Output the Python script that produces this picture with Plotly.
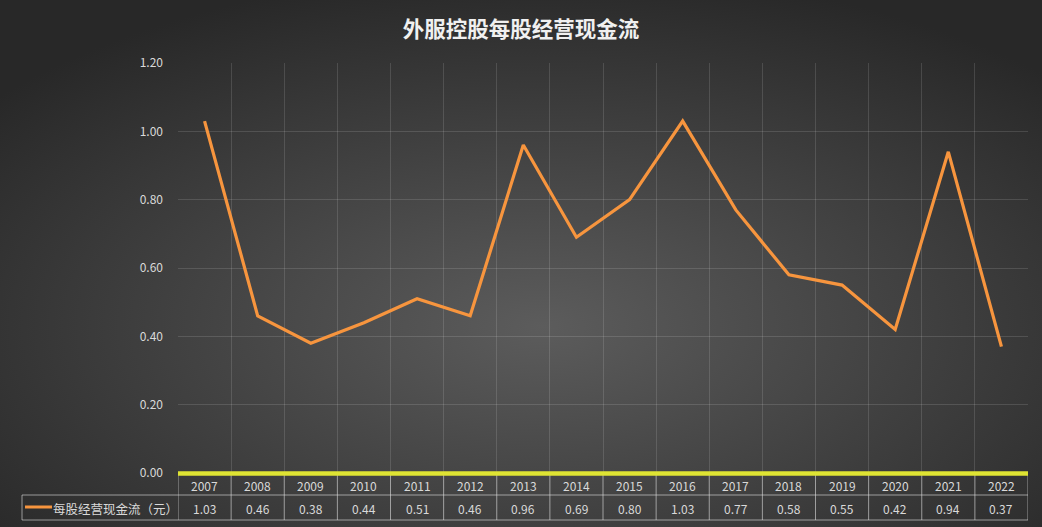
import base64
import plotly.graph_objects as go

# 外服控股 每股经营现金流（元）
years = ["2007", "2008", "2009", "2010", "2011", "2012", "2013", "2014",
         "2015", "2016", "2017", "2018", "2019", "2020", "2021", "2022"]
cash_per_share = [1.03, 0.46, 0.38, 0.44, 0.51, 0.46, 0.96, 0.69,
                  0.80, 1.03, 0.77, 0.58, 0.55, 0.42, 0.94, 0.37]
series_name = "每股经营现金流（元）"
title = "外服控股每股经营现金流"

W, H = 1042, 527
ML, MR, MT, MB = 178, 14, 63, 54
pw, ph = W - ML - MR, H - MT - MB

ORANGE = "#f7953e"
GRID = "rgba(255,255,255,0.13)"
TABLE = "rgba(225,225,225,0.6)"
TXT = "#d9d9d9"
FONT = "Noto Sans CJK SC"

def py(px_y):
    # pixel row -> paper y
    return (H - MB - px_y) / ph

def pxx(px_x):
    return (px_x - ML) / pw

# radial gradient background as an inline svg
svg = f"""<svg xmlns='http://www.w3.org/2000/svg' width='{W}' height='{H}' preserveAspectRatio='none'>
<defs><radialGradient id='g' cx='52%' cy='62%' r='68%'>
<stop offset='0%' stop-color='#5c5c5c'/><stop offset='100%' stop-color='#282828'/>
</radialGradient></defs><rect width='{W}' height='{H}' fill='url(#g)'/></svg>"""
bg_src = "data:image/svg+xml;base64," + base64.b64encode(svg.encode()).decode()

xs = [i + 0.5 for i in range(len(years))]

fig = go.Figure()
fig.add_trace(go.Scatter(x=xs, y=cash_per_share, mode="lines", name=series_name,
                         line=dict(color=ORANGE, width=3.2), showlegend=False))

shapes = []
n = len(years)
# table lines
y_row1_bot = py(495)
y_row2_bot = py(520)
for i in range(n + 1):
    shapes.append(dict(type="line", xref="x", yref="paper", x0=i, x1=i,
                       y0=y_row2_bot, y1=0, line=dict(color=TABLE, width=1)))
shapes.append(dict(type="line", xref="paper", yref="paper", x0=pxx(22), x1=1,
                   y0=y_row1_bot, y1=y_row1_bot, line=dict(color=TABLE, width=1)))
shapes.append(dict(type="line", xref="paper", yref="paper", x0=pxx(22), x1=1,
                   y0=y_row2_bot, y1=y_row2_bot, line=dict(color=TABLE, width=1)))
shapes.append(dict(type="line", xref="paper", yref="paper", x0=pxx(22), x1=pxx(22),
                   y0=y_row2_bot, y1=y_row1_bot, line=dict(color=TABLE, width=1)))
# legend key in the table
shapes.append(dict(type="line", xref="paper", yref="paper", x0=pxx(25), x1=pxx(52),
                   y0=py(507), y1=py(507), line=dict(color=ORANGE, width=3)))
# yellow baseline
shapes.append(dict(type="line", xref="paper", yref="paper", x0=0, x1=1,
                   y0=py(473.5), y1=py(473.5), line=dict(color="#dfe433", width=4.5)))

annotations = []
for i, (yr, v) in enumerate(zip(years, cash_per_share)):
    annotations.append(dict(x=xs[i], y=py(485), xref="x", yref="paper", text=yr,
                            yanchor="middle", showarrow=False,
                            font=dict(size=12, color=TXT, family=FONT)))
    annotations.append(dict(x=xs[i], y=py(508), xref="x", yref="paper", text=f"{v:.2f}",
                            yanchor="middle", showarrow=False,
                            font=dict(size=12, color=TXT, family=FONT)))
annotations.append(dict(x=pxx(51), y=py(508), xref="paper", yref="paper", text=series_name,
                        xanchor="left", yanchor="middle", showarrow=False,
                        font=dict(size=12.5, color=TXT, family=FONT)))

fig.update_layout(
    width=W, height=H,
    margin=dict(l=ML, r=MR, t=MT, b=MB),
    paper_bgcolor="#3a3a3a",
    plot_bgcolor="rgba(0,0,0,0)",
    title=dict(text=f"<b>{title}</b>", x=0.5, xref="container", xanchor="center",
               y=1 - 29 / H, yref="container", yanchor="middle",
               font=dict(size=21.5, color="#f0f0f0", family=FONT)),
    xaxis=dict(range=[0, n], tickvals=list(range(n + 1)), showticklabels=False,
               showgrid=True, gridcolor=GRID, gridwidth=1, zeroline=False,
               showline=False, fixedrange=True),
    yaxis=dict(range=[0, 1.2], dtick=0.2, tickformat=".2f", showgrid=True,
               gridcolor=GRID, gridwidth=1, zeroline=False, ticks="",
               ticklabelstandoff=14,
               tickfont=dict(size=12, color=TXT, family=FONT)),
    images=[dict(source=bg_src, xref="paper", yref="paper",
                 x=-ML / pw, y=1 + MT / ph, sizex=W / pw, sizey=H / ph,
                 sizing="stretch", layer="below", xanchor="left", yanchor="top")],
    shapes=shapes,
    annotations=annotations,
)

fig.write_html("out.html", config={"displayModeBar": False},
               post_script="document.body.style.margin='0';")
